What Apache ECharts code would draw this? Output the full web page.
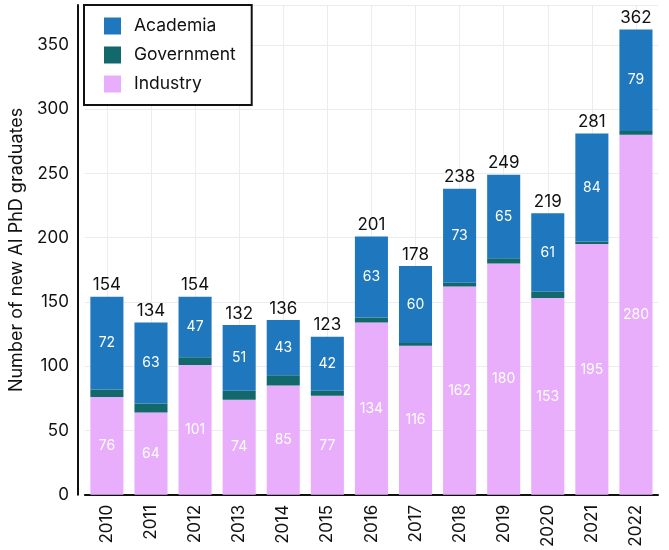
<!DOCTYPE html>
<html>
<head>
<meta charset="utf-8">
<script src="https://cdn.jsdelivr.net/npm/echarts@6/dist/echarts.min.js"></script>
<style>
  html, body { margin: 0; padding: 0; background: #fff; }
  #chart { width: 669px; height: 550px; }
</style>
</head>
<body>
<div id="chart"></div>
<script>
var years = ['2010', '2011', '2012', '2013', '2014', '2015', '2016', '2017', '2018', '2019', '2020', '2021', '2022'];
var industry = [76, 64, 101, 74, 85, 77, 134, 116, 162, 180, 153, 195, 280];
var government = [6, 7, 6, 7, 8, 4, 4, 2, 3, 4, 5, 2, 3];
var academia = [72, 63, 47, 51, 43, 42, 63, 60, 73, 65, 61, 84, 79];
var totals = [154, 134, 154, 132, 136, 123, 201, 178, 238, 249, 219, 281, 362];

var font = 'Inter, "DejaVu Sans", sans-serif';
var chart = echarts.init(document.getElementById('chart'), null, { renderer: 'canvas' });

var inside = {
  show: true,
  position: 'inside',
  color: '#fff',
  fontSize: 14,
  fontFamily: font
};

var option = {
  backgroundColor: '#ffffff',
  animation: false,
  legend: {
    orient: 'vertical',
    left: 84,
    top: 5,
    padding: [12, 16, 12, 20],
    itemGap: 11,
    itemWidth: 17,
    itemHeight: 17,
    icon: 'rect',
    borderColor: '#111',
    borderWidth: 2,
    backgroundColor: '#fff',
    selectedMode: false,
    data: ['Academia', 'Government', 'Industry'],
    textStyle: { fontSize: 17.5, color: '#111', fontFamily: font, padding: [0, 0, 0, 8] }
  },
  grid: { left: 78, right: 11, top: 5, bottom: 54 },
  xAxis: {
    type: 'category',
    data: years,
    axisLine: { lineStyle: { color: '#111', width: 2 } },
    axisTick: { show: false },
    axisLabel: { rotate: 90, color: '#111', fontSize: 17, fontFamily: font, margin: 10 },
    splitLine: { show: false }
  },
  yAxis: {
    type: 'value',
    min: 0,
    max: 381,
    interval: 50,
    offset: 7,
    name: 'Number of new AI PhD graduates',
    nameLocation: 'middle',
    nameGap: 44,
    nameTextStyle: { fontSize: 18, color: '#111', fontFamily: font },
    axisLine: { show: true, lineStyle: { color: '#111', width: 2 } },
    axisTick: { show: false },
    axisLabel: {
      color: '#111', fontSize: 17, fontFamily: font, margin: 9, showMaxLabel: false,
      formatter: function (v) { return v % 50 === 0 ? v : ''; }
    },
    splitLine: { show: true, lineStyle: { color: '#ececec', width: 1 } }
  },
  series: [
    {
      name: 'grid', type: 'line', data: [], z: 0, silent: true,
      markLine: {
        z: 0,
        silent: true,
        symbol: 'none',
        label: { show: false },
        lineStyle: { color: '#ececec', width: 1, type: 'solid' },
        data: years.map(function (y) { return { xAxis: y }; })
      }
    },
    {
      name: 'Industry', type: 'bar', stack: 'total', barWidth: '75%',
      itemStyle: { color: '#e9aefb' },
      data: industry, label: inside
    },
    {
      name: 'Government', type: 'bar', stack: 'total',
      itemStyle: { color: '#12686a' },
      data: government
    },
    {
      name: 'Academia', type: 'bar', stack: 'total',
      itemStyle: { color: '#1f77bd' },
      data: academia, label: inside
    },
    {
      name: 'Total', type: 'bar', stack: 'total',
      data: years.map(function () { return 0; }),
      label: {
        show: true,
        position: 'top',
        distance: 3,
        color: '#111',
        fontSize: 17,
        fontFamily: font,
        formatter: function (p) { return totals[p.dataIndex]; }
      }
    }
  ]
};

chart.setOption(option);
</script>
</body>
</html>
